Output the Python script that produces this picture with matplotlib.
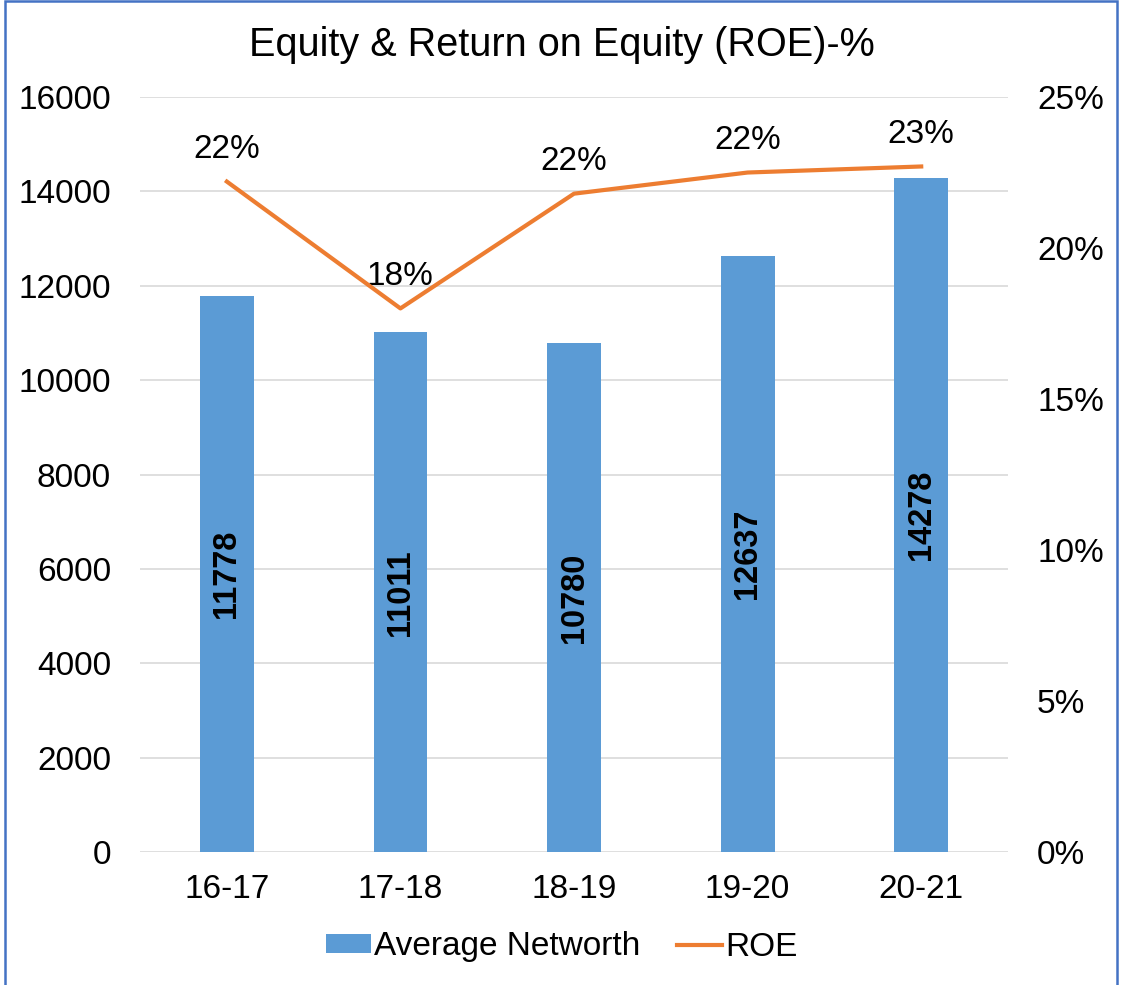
import matplotlib.pyplot as plt
import numpy as np

plt.rcParams['font.family'] = ['Liberation Sans', 'DejaVu Sans']

years = ['16-17', '17-18', '18-19', '19-20', '20-21']
networth = [11778, 11011, 10780, 12637, 14278]
roe = [22.2, 18.0, 21.8, 22.5, 22.7]
roe_labels = ['22%', '18%', '22%', '22%', '23%']

fig = plt.figure(figsize=(11.24, 9.85), dpi=100)
ax = fig.add_axes([0.1246, 0.135, 0.7722, 0.7665])
x = np.arange(len(years))

bars = ax.bar(x, networth, width=0.31, color='#5B9BD5', label='Average Networth', zorder=2)
for xi, v in zip(x, networth):
    ax.text(xi, v / 2, str(v), rotation=90, ha='center', va='center',
            fontsize=23.5, fontweight='bold', zorder=3)

ax.set_xlim(-0.5, len(years) - 0.5)
ax.set_ylim(0, 16000)
ax.set_yticks(range(0, 16001, 2000))
ax.set_xticks(x)
ax.set_xticklabels(years)
ax.tick_params(axis='both', length=0, labelsize=24)
ax.tick_params(axis='y', pad=21)
ax.tick_params(axis='x', pad=16)
ax.grid(axis='y', color='#D9D9D9', linewidth=1.2, zorder=0)
for s in ax.spines.values():
    s.set_visible(False)

ax2 = ax.twinx()
line, = ax2.plot(x, roe, color='#ED7D31', linewidth=3, label='ROE', zorder=4)
for xi, v, t in zip(x, roe, roe_labels):
    ax2.annotate(t, (xi, v), xytext=(0, 23), textcoords='offset points',
                 ha='center', va='center', fontsize=24)
ax2.set_ylim(0, 25)
ax2.set_yticks(range(0, 26, 5))
ax2.set_yticklabels([f'{v}%' for v in range(0, 26, 5)])
ax2.tick_params(axis='y', length=0, labelsize=24, pad=21)
for s in ax2.spines.values():
    s.set_visible(False)

fig.text(0.5, 1 - 45 / 985, 'Equity & Return on Equity (ROE)-%', ha='center', va='center', fontsize=28.5)

fig.legend([bars, line], ['Average Networth', 'ROE'], loc='center',
           bbox_to_anchor=(0.5, 1 - 947 / 985), ncol=2, frameon=False, fontsize=24,
           handlelength=1.35, handleheight=0.5, handletextpad=0.1, columnspacing=1.1)

border = plt.Rectangle((5 / 1124, -0.01), 1112 / 1124, 1.0085, transform=fig.transFigure,
                       fill=False, edgecolor='#4472C4', linewidth=1.8)
fig.patches.append(border)

fig.savefig('out.png', dpi=100)
